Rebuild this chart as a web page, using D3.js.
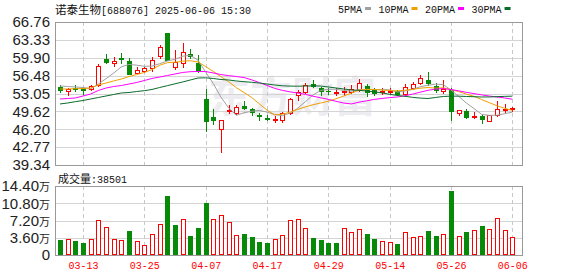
<!DOCTYPE html>
<html>
<head>
<meta charset="utf-8">
<script src="https://cdn.jsdelivr.net/npm/d3@7"></script>
<style>
  body { margin: 0; background: #fff; }
</style>
</head>
<body>
<div id="chart"></div>
<script>
// trading days shown
var dates = ["03-10","03-11","03-12","03-13","03-14","03-17","03-18","03-19","03-20","03-21",
  "03-24","03-25","03-26","03-27","03-28","03-31","04-01","04-02","04-03","04-07",
  "04-08","04-09","04-10","04-11","04-14","04-15","04-16","04-17","04-18","04-21",
  "04-22","04-23","04-24","04-25","04-28","04-29","04-30","05-06","05-07","05-08",
  "05-09","05-12","05-13","05-14","05-15","05-16","05-19","05-20","05-21","05-22",
  "05-23","05-26","05-27","05-28","05-29","05-30","06-03","06-04","06-05","06-06"];

var open  = [54.24,53.53,54.10,54.16,53.85,54.68,59.66,58.84,59.86,59.28,
  56.92,57.36,57.88,60.30,64.65,58.19,58.84,60.62,58.84,52.09,
  48.60,46.18,49.75,49.25,50.71,50.08,48.93,48.35,47.91,47.91,
  49.25,52.76,53.40,54.87,54.16,53.59,53.20,53.28,53.40,53.72,
  54.49,53.72,53.34,53.34,53.59,52.95,54.05,55.12,55.64,54.55,
  53.59,53.72,49.25,49.69,48.54,48.74,47.83,48.93,49.89,50.02];
var close = [53.72,53.97,53.91,53.72,54.49,58.32,59.03,59.28,59.74,56.79,
  57.56,58.00,59.47,61.97,59.47,59.15,60.95,60.24,57.42,47.80,
  47.95,48.02,49.89,50.42,50.35,49.56,48.74,48.18,48.22,49.25,
  52.00,53.34,54.62,54.58,53.59,53.45,53.40,53.53,53.85,55.00,
  53.40,53.20,53.53,53.59,52.95,54.36,54.87,55.96,55.00,53.80,
  53.85,49.75,49.89,48.60,48.74,48.22,48.87,50.02,50.05,50.21];
var high  = [54.68,54.10,54.68,54.30,54.68,58.71,60.62,60.00,60.76,59.92,
  58.19,58.19,60.11,62.35,64.65,61.39,62.79,61.58,60.43,53.91,
  50.08,48.02,50.84,50.84,51.61,50.21,49.37,48.93,48.74,49.56,
  52.19,53.72,55.00,55.64,54.36,54.05,54.05,54.36,54.68,55.83,
  54.87,54.05,54.05,54.05,53.72,54.81,55.31,56.60,57.23,55.00,
  55.64,54.05,49.89,50.02,49.56,49.12,48.87,51.61,50.98,50.52];
var low   = [53.40,52.76,53.59,52.95,53.72,54.49,58.90,58.38,58.96,56.79,
  56.92,57.17,57.42,59.80,59.47,57.69,58.19,59.86,57.23,45.86,
  47.14,41.77,49.37,49.06,50.08,48.93,47.97,47.97,47.64,47.64,
  49.12,51.80,53.09,54.24,52.76,52.95,52.76,52.76,53.20,53.59,
  52.57,52.76,52.95,53.09,52.76,52.76,53.85,54.87,54.68,53.40,
  53.09,47.97,48.93,48.41,48.29,47.45,47.77,48.74,49.56,49.69];
var volume = [31300,32700,29200,25000,32700,72400,57800,32700,30700,50100,
  28600,20200,43200,64100,123100,62600,74500,39700,56300,108500,
  74500,82900,68200,41100,43800,37600,27100,25000,32700,41100,
  72400,74500,55700,35500,31300,25000,25000,55700,48000,53600,
  43800,33400,29200,27100,23000,47300,36900,39000,50100,39700,
  43800,133600,39000,48000,51500,60500,53600,76600,51500,38501];

// moving averages
var ma5  = [54.49,54.39,54.30,54.20,53.96,54.88,55.89,56.97,58.17,58.63,
  58.48,58.27,58.31,58.76,59.29,59.61,60.20,60.36,59.45,57.15,
  54.94,52.34,50.27,48.87,49.35,49.64,49.80,49.48,49.03,48.80,
  49.29,50.21,51.47,52.76,53.63,53.85,53.86,53.64,53.49,53.77,
  53.84,53.80,53.80,53.74,53.33,53.53,53.86,54.35,54.63,54.85,
  54.75,53.72,52.51,51.23,50.17,49.04,48.86,48.89,49.17,49.47];
var ma10 = [53.91,53.91,53.97,54.00,54.10,54.68,55.06,55.45,55.83,56.30,
  56.68,57.08,57.64,58.47,58.96,59.05,59.24,59.33,59.10,58.22,
  57.27,56.27,55.31,54.16,53.25,52.29,51.07,49.87,48.95,49.08,
  49.47,50.00,50.48,50.90,51.22,51.57,52.03,52.56,53.13,53.70,
  53.84,53.83,53.72,53.62,53.55,53.68,53.83,54.07,54.19,54.09,
  54.14,53.79,53.43,52.93,52.51,51.89,51.29,50.70,50.20,49.82];
var ma20 = [52.00,52.09,52.19,52.57,52.95,53.63,54.10,54.39,54.58,54.87,
  55.16,55.54,55.93,56.21,56.50,56.79,57.08,57.23,57.27,57.26,
  56.98,56.68,56.48,56.31,56.11,55.67,55.15,54.60,54.03,53.65,
  53.37,53.14,52.89,52.53,52.23,51.93,51.55,51.22,51.04,51.39,
  51.65,51.92,52.10,52.26,52.38,52.62,52.93,53.31,53.66,53.90,
  53.99,53.81,53.57,53.27,53.03,52.79,52.56,52.39,52.19,51.95];
var ma30 = [51.04,51.23,51.48,51.71,52.00,52.28,52.57,52.86,53.15,53.24,
  53.43,53.59,53.82,54.20,54.55,54.91,55.26,55.64,56.02,56.06,
  55.93,55.73,55.64,55.45,55.31,55.20,55.06,54.87,54.68,54.53,
  54.47,54.45,54.48,54.51,54.48,54.30,54.11,53.92,53.73,53.67,
  53.53,53.37,53.17,52.89,52.67,52.51,52.31,52.17,52.09,52.29,
  52.48,52.54,52.54,52.48,52.43,52.38,52.39,52.44,52.50,52.54];

var prevClose = 53.90;  // close before 03-10
var priceTicks = [39.34, 42.77, 46.20, 49.62, 53.05, 56.48, 59.90, 63.33, 66.76];
var volTicks = [0, 36000, 72000, 108000, 144000];
var dateTicks = ["03-13","03-25","04-07","04-17","04-29","05-14","05-26","06-06"];
var maNames = ["5PMA", "10PMA", "20PMA", "30PMA"];

// layout
var W = 578, H = 276;
var left = 55, right = 522;
var top1 = 22, bot1 = 165;
var top2 = 186, bot2 = 255;

var RED = "#ff0000", GREEN = "#078a07";
var maColors = ["#a0a0a0", "#f0a000", "#ff00ff", "#0b6b2b"];
var numFont = "'Liberation Sans Narrow', 'Arial Narrow', Arial, sans-serif";
var monoFont = "'Liberation Mono', 'DejaVu Sans Mono', monospace";
var cjkFont = "'Noto Sans CJK SC', sans-serif";

var svg = d3.select("#chart").append("svg")
    .attr("width", W)
    .attr("height", H);

// scales
var x = d3.scalePoint().domain(dates).range([60, 512.3]);
var y = d3.scaleLinear().domain([39.34, 66.76]).range([bot1, top1]);
var yv = d3.scaleLinear().domain([0, 144000]).range([bot2, top2]);

function px(d) { return Math.round(x(d)); }
function up(i) { return close[i] >= open[i]; }
function volUp(i) { return close[i] >= (i === 0 ? prevClose : close[i - 1]); }

// watermark
svg.append("text")
    .attr("x", 208)
    .attr("y", 112)
    .attr("font-family", cjkFont)
    .attr("font-weight", "bold")
    .attr("font-size", 42)
    .attr("fill", "#ededf1")
    .text("东方财富");

// grid: horizontal lines
svg.append("g")
    .attr("transform", "translate(" + left + ",0)")
    .call(d3.axisLeft(y).tickValues(priceTicks).tickSize(-(right - left)).tickFormat(""))
    .call(function(g) { g.select(".domain").remove(); })
    .selectAll("line")
    .attr("stroke", "#d4d4d4")
    .attr("shape-rendering", "crispEdges");

svg.append("g")
    .attr("transform", "translate(" + left + ",0)")
    .call(d3.axisLeft(yv).tickValues(volTicks).tickSize(-(right - left)).tickFormat(""))
    .call(function(g) { g.select(".domain").remove(); })
    .selectAll("line")
    .attr("stroke", "#d4d4d4")
    .attr("shape-rendering", "crispEdges");

// grid: dashed verticals in both panels
[[top1, bot1], [top2, bot2]].forEach(function(p) {
  svg.append("g").selectAll("line")
    .data(dateTicks)
    .enter()
    .append("line")
      .attr("x1", function(d) { return px(d) + 0.5; })
      .attr("x2", function(d) { return px(d) + 0.5; })
      .attr("y1", p[0])
      .attr("y2", p[1])
      .attr("stroke", "#c8c8c8")
      .attr("stroke-dasharray", "4,3");
});

// frames
[[top1, bot1], [top2, bot2]].forEach(function(p) {
  svg.append("rect")
    .attr("x", left + 0.5)
    .attr("y", p[0] + 0.5)
    .attr("width", right - left)
    .attr("height", p[1] - p[0])
    .attr("fill", "none")
    .attr("stroke", "#999");
});

// y axis labels
svg.append("g")
    .attr("transform", "translate(" + (left - 2) + ",0)")
    .call(d3.axisLeft(y).tickValues(priceTicks).tickSize(0).tickFormat(d3.format(".2f")))
    .call(function(g) { g.select(".domain").remove(); })
    .selectAll("text")
    .attr("font-family", numFont)
    .attr("font-size", 15)
    .attr("fill", "#222");

var vAxis = svg.append("g")
    .attr("transform", "translate(" + (left - 2) + ",0)")
    .call(d3.axisLeft(yv).tickValues(volTicks).tickSize(0).tickFormat(""))
    .call(function(g) { g.select(".domain").remove(); });
vAxis.selectAll("text")
    .attr("font-family", numFont)
    .attr("font-size", 15)
    .attr("fill", "#222")
    .each(function(d) {
      var t = d3.select(this);
      if (d === 0) { t.text("0"); return; }
      t.append("tspan").text((d / 10000).toFixed(2));
      t.append("tspan").attr("font-family", cjkFont).attr("font-size", 11).text("万");
    });

// date axis
svg.append("g")
    .attr("transform", "translate(0," + bot2 + ")")
    .call(d3.axisBottom(x).tickValues(dateTicks).tickSize(0).tickPadding(7))
    .call(function(g) { g.select(".domain").remove(); })
    .selectAll("text")
    .attr("font-family", monoFont)
    .attr("font-size", 10)
    .attr("fill", RED);

// candles: wick
svg.append("g").selectAll("line")
  .data(dates)
  .enter()
  .append("line")
    .attr("x1", function(d) { return px(d) + 0.5; })
    .attr("x2", function(d) { return px(d) + 0.5; })
    .attr("y1", function(d, i) { return Math.round(y(high[i])); })
    .attr("y2", function(d, i) { return Math.round(y(low[i])) + 1; })
    .attr("stroke", function(d, i) { return up(i) ? RED : GREEN; });

// candles: body
svg.append("g").selectAll("rect")
  .data(dates)
  .enter()
  .append("rect")
    .attr("x", function(d, i) { return up(i) ? px(d) - 1.5 : px(d) - 2; })
    .attr("width", function(d, i) { return up(i) ? 4 : 5; })
    .attr("y", function(d, i) {
      var t = Math.round(y(Math.max(open[i], close[i])));
      return up(i) ? t + 0.5 : t;
    })
    .attr("height", function(d, i) {
      var t = Math.round(y(Math.max(open[i], close[i])));
      var b = Math.round(y(Math.min(open[i], close[i])));
      return up(i) ? Math.max(b - t, 1) : Math.max(b - t + 1, 1);
    })
    .attr("fill", function(d, i) { return up(i) ? "#fff" : GREEN; })
    .attr("stroke", function(d, i) { return up(i) ? RED : "none"; });

// moving averages
var mas = [ma5, ma10, ma20, ma30];
var line = d3.line()
    .x(function(d, i) { return x(dates[i]); })
    .y(function(d) { return y(d); });
mas.forEach(function(m, k) {
  svg.append("path")
    .datum(m)
    .attr("d", line)
    .attr("fill", "none")
    .attr("stroke", maColors[k])
    .attr("stroke-width", 1);
});

// volume bars
svg.append("g").selectAll("rect")
  .data(dates)
  .enter()
  .append("rect")
    .attr("x", function(d, i) { return volUp(i) ? px(d) - 1.5 : px(d) - 2; })
    .attr("width", function(d, i) { return volUp(i) ? 4 : 5; })
    .attr("y", function(d, i) {
      var t = Math.round(yv(volume[i]));
      return volUp(i) ? t + 0.5 : t;
    })
    .attr("height", function(d, i) {
      var t = Math.round(yv(volume[i]));
      return volUp(i) ? bot2 - t - 1 : bot2 - t;
    })
    .attr("fill", function(d, i) { return volUp(i) ? "#fff" : GREEN; })
    .attr("stroke", function(d, i) { return volUp(i) ? RED : "none"; });

// title
var title = svg.append("text")
    .attr("x", left)
    .attr("y", 14)
    .attr("fill", "#111");
title.append("tspan").attr("font-family", cjkFont).attr("font-size", 11.5).text("诺泰生物");
title.append("tspan").attr("font-family", monoFont).attr("font-size", 10).text("[688076] 2025-06-06 15:30");

// legend
var lx = 338;
maNames.forEach(function(n, k) {
  var t = svg.append("text")
    .attr("x", lx)
    .attr("y", 13)
    .attr("font-family", monoFont)
    .attr("font-size", 10)
    .attr("fill", "#111")
    .text(n);
  var w = t.node().getComputedTextLength();
  svg.append("rect")
    .attr("x", lx + w + 3)
    .attr("y", 7)
    .attr("width", 6)
    .attr("height", 3)
    .attr("fill", maColors[k]);
  lx += w + 16.5;
});

// volume label
var vl = svg.append("text")
    .attr("x", 58)
    .attr("y", 183)
    .attr("fill", "#111");
vl.append("tspan").attr("font-family", cjkFont).attr("font-size", 11).text("成交量");
vl.append("tspan").attr("font-family", monoFont).attr("font-size", 10).text(":" + volume[volume.length - 1]);
</script>
</body>
</html>
